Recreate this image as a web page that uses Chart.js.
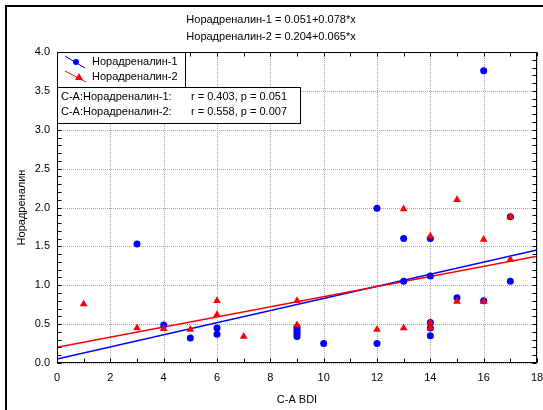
<!DOCTYPE html>
<html>
<head>
<meta charset="utf-8">
<script src="https://cdn.jsdelivr.net/npm/chart.js@4/dist/chart.umd.min.js"></script>
<style>
html,body{margin:0;padding:0;background:#fff;}
#wrap{position:absolute;left:0;top:0;width:543px;height:410px;}
</style>
</head>
<body>
<div id="wrap"><canvas id="c" width="543" height="410"></canvas></div>
<script>
// ---- data ----
const titleLines = ["Норадреналин-1 = 0.051+0.078*x", "Норадреналин-2 = 0.204+0.065*x"];
const seriesNames = ["Норадреналин-1", "Норадреналин-2"];
const statsLabels = ["C-A:Норадреналин-1:", "C-A:Норадреналин-2:"];
const statsValues = ["r = 0.403, p = 0.051", "r = 0.558, p = 0.007"];
const xTitle = "C-A BDI";
const yTitle = "Норадреналин";

const blueX = [3, 4, 5, 6, 6, 9, 9, 9, 9, 9, 10, 12, 12, 13, 13, 14, 14, 14, 14, 14, 15, 16, 16, 17, 17];
const blueY = [1.53, 0.49, 0.32, 0.45, 0.37, 0.34, 0.37, 0.40, 0.43, 0.46, 0.25, 1.99, 0.25, 1.60, 1.05, 1.60, 1.12, 0.52, 0.45, 0.35, 0.84, 3.76, 0.80, 1.88, 1.05];

const redX = [1, 3, 4, 5, 6, 6, 7, 9, 9, 12, 13, 13, 14, 14, 14, 15, 15, 16, 16, 17, 17];
const redY = [0.76, 0.45, 0.44, 0.43, 0.80, 0.62, 0.34, 0.80, 0.49, 0.43, 1.98, 0.45, 1.63, 0.52, 0.45, 2.10, 0.79, 1.59, 0.79, 1.88, 1.33];

const fitX = [0, 18];
const fitBlueY = [0.051, 1.455];
const fitRedY = [0.204, 1.374];

const xMin = 0, xMax = 18, xStep = 2;
const yMin = 0, yMax = 4, yStep = 0.5;

// ---- build ----
const pts = (xs, ys) => xs.map((x, i) => ({x: x, y: ys[i]}));
const FONT = '"Liberation Sans", Arial, sans-serif';
const BLUE = '#0000ff', RED = '#ff0000';

const decor = {
  id: 'decor',
  beforeDraw(chart) {
    const ctx = chart.ctx;
    ctx.save();
    ctx.fillStyle = '#fff';
    ctx.fillRect(0, 0, chart.width, chart.height);
    ctx.restore();
  },
  beforeDatasetsDraw(chart) {
    const ctx = chart.ctx;
    const a = chart.chartArea;
    const xs = chart.scales.x, ys = chart.scales.y;
    ctx.save();
    ctx.strokeStyle = '#a8a8a8';
    ctx.lineWidth = 1;
    ctx.setLineDash([1, 1]);
    ctx.beginPath();
    xs.ticks.forEach(t => {
      const px = Math.round(xs.getPixelForValue(t.value)) + 0.5;
      ctx.moveTo(px, a.top); ctx.lineTo(px, a.bottom);
    });
    ys.ticks.forEach(t => {
      const py = Math.round(ys.getPixelForValue(t.value)) + 0.5;
      ctx.moveTo(a.left, py); ctx.lineTo(a.right, py);
    });
    ctx.stroke();
    ctx.restore();
  },
  afterDraw(chart) {
    const ctx = chart.ctx;
    const a = chart.chartArea;
    const xs = chart.scales.x, ys = chart.scales.y;
    ctx.save();
    // outer frame
    ctx.fillStyle = '#000';
    ctx.fillRect(5, 5, 2, 405);
    ctx.fillRect(5, 5, 538, 2);
    // plot border
    ctx.strokeStyle = '#000';
    ctx.lineWidth = 1;
    const L = Math.round(a.left) + 0.5, R = Math.round(a.right) - 0.5;
    const T = Math.round(a.top) + 0.5, B = Math.round(a.bottom) - 0.5;
    ctx.strokeRect(L, T, R - L, B - T);
    // minor ticks inward
    ctx.beginPath();
    for (let v = xMin; v <= xMax; v += 1) {
      const px = Math.round(xs.getPixelForValue(v)) + 0.5;
      ctx.moveTo(px, B); ctx.lineTo(px, B - 4);
      ctx.moveTo(px, T); ctx.lineTo(px, T + 4);
    }
    for (let i = 0; i <= 40; i++) {
      const py = Math.round(ys.getPixelForValue(i / 10)) + 0.5;
      ctx.moveTo(L, py); ctx.lineTo(L + 4, py);
      ctx.moveTo(R, py); ctx.lineTo(R - 4, py);
    }
    ctx.stroke();
    // titles
    ctx.fillStyle = '#000';
    ctx.font = '11px ' + FONT;
    ctx.textAlign = 'center';
    ctx.textBaseline = 'middle';
    ctx.fillText(titleLines[0], 271, 20);
    ctx.fillText(titleLines[1], 271, 37);
    // legend box
    ctx.fillStyle = '#fff';
    ctx.fillRect(L, T, 128, 35);
    ctx.strokeRect(L, T, 128, 35);
    ctx.fillRect(L, T + 35, 243, 36);
    ctx.strokeRect(L, T + 35, 243, 36);
    // legend markers
    ctx.lineWidth = 1;
    ctx.strokeStyle = BLUE;
    ctx.beginPath(); ctx.moveTo(65, 56); ctx.lineTo(85, 68); ctx.stroke();
    ctx.fillStyle = BLUE;
    ctx.beginPath(); ctx.arc(76, 62, 3, 0, Math.PI * 2); ctx.fill();
    ctx.strokeStyle = RED;
    ctx.beginPath(); ctx.moveTo(65, 71); ctx.lineTo(86, 82); ctx.stroke();
    ctx.fillStyle = RED;
    ctx.beginPath(); ctx.moveTo(79, 73); ctx.lineTo(83, 80); ctx.lineTo(75, 80); ctx.closePath(); ctx.fill();
    // legend text
    ctx.fillStyle = '#000';
    ctx.textAlign = 'left';
    ctx.font = '11px ' + FONT;
    ctx.fillText(seriesNames[0], 92, 62);
    ctx.fillText(seriesNames[1], 92, 77);
    ctx.fillText(statsLabels[0], 61, 97);
    ctx.fillText(statsLabels[1], 61, 112);
    ctx.fillText(statsValues[0], 191, 97);
    ctx.fillText(statsValues[1], 191, 112);
    ctx.restore();
  }
};

new Chart(document.getElementById('c'), {
  type: 'scatter',
  data: {
    datasets: [
      {label: 'fit1', type: 'line', data: pts(fitX, fitBlueY), borderColor: BLUE, borderWidth: 1.5, pointRadius: 0, fill: false, order: 3},
      {label: 'fit2', type: 'line', data: pts(fitX, fitRedY), borderColor: RED, borderWidth: 1.5, pointRadius: 0, fill: false, order: 2},
      {label: seriesNames[0], data: pts(blueX, blueY), backgroundColor: BLUE, borderColor: BLUE, pointRadius: 3.5, pointStyle: 'circle', borderWidth: 0, order: 1},
      {label: seriesNames[1], data: pts(redX, redY), backgroundColor: RED, borderColor: RED, pointRadius: 4.5, pointStyle: 'triangle', borderWidth: 0, order: 0}
    ]
  },
  options: {
    responsive: false,
    animation: false,
    events: [],
    layout: {padding: {left: 8, top: 52, right: 6, bottom: 0}},
    plugins: {legend: {display: false}, title: {display: false}, tooltip: {enabled: false}},
    scales: {
      x: {
        type: 'linear', min: xMin, max: xMax,
        ticks: {stepSize: xStep, color: '#000', font: {size: 11, family: FONT}, padding: 8, maxRotation: 0},
        grid: {display: false, drawTicks: false},
        border: {display: false},
        title: {display: true, text: xTitle, color: '#000', font: {size: 11, family: FONT}, padding: {top: 0, bottom: 3}},
        afterFit(s) { s.height = 47; s.paddingRight = 0; s.paddingLeft = 0; }
      },
      y: {
        type: 'linear', min: yMin, max: yMax,
        ticks: {stepSize: yStep, color: '#000', font: {size: 11, family: FONT}, padding: 7, callback: v => Number(v).toFixed(1)},
        grid: {display: false, drawTicks: false},
        border: {display: false},
        title: {display: true, text: yTitle, color: '#000', font: {size: 11, family: FONT}, padding: {top: 7, bottom: 0}},
        afterFit(s) { s.width = 49; s.paddingTop = 0; s.paddingBottom = 0; }
      }
    }
  },
  plugins: [decor]
});
</script>
</body>
</html>
